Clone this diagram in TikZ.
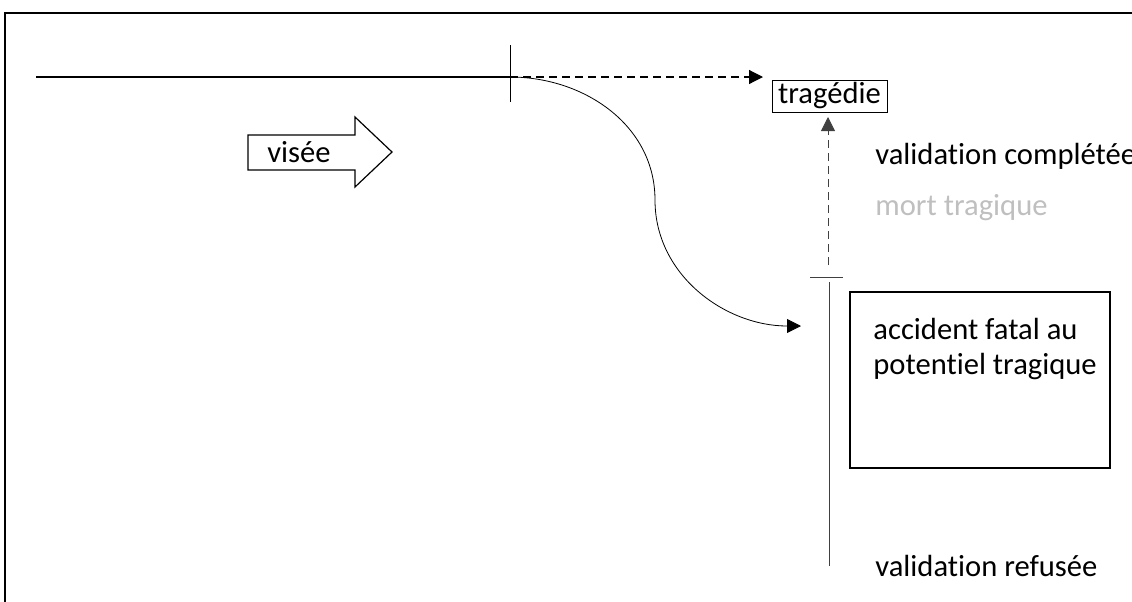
\documentclass[tikz,border=0pt]{standalone}
\usepackage{fontspec}
\setmainfont{Carlito}[Ligatures=NoCommon]
\usetikzlibrary{arrows.meta}

\begin{document}
\begin{tikzpicture}[x=.5pt,y=-.5pt,font=\fontsize{15.3}{17.5}\selectfont,
    tip/.style={-{Triangle[length=7pt,width=7pt]}},
    dsh/.style={dash pattern=on 4pt off 2.5pt}]
      \useasboundingbox (0,0) rectangle (1132,601);
      \clip (0,0) rectangle (1132,601);
      % frame
      \draw[line width=1pt] (5,13) rectangle (1150,620);

      % line of aim
      \coordinate (start) at (36,77);
      \coordinate (cut) at (510,77);
      \coordinate (cuttop) at (510,45);
      \coordinate (cutbot) at (510,102);
      \draw[semithick] (start) to (cut);
      \draw[thin] (cuttop) to (cutbot);

      % vis\'ee
      \draw[semithick] (248,135) -- (355,135) -- (355,117) -- (392,152)
      -- (355,187) -- (355,170) -- (248,170) -- cycle;
      \node (visee) at (299,152) {visée};

      % trag\'edie
      \node (trag) at (829.5,96) [draw, thin, inner sep=0pt, minimum width=57.5pt, minimum height=16pt] {tragédie};
      \coordinate (tragtip) at (763,77);
      \draw[semithick, dsh, tip] (cut) to (tragtip);

      % validation
      \coordinate (val) at (828,265);
      \coordinate (valtop) at (828,117);
      \draw[thin, dsh, black!75, tip] (val) to (valtop);
      \coordinate (barl) at (810,277);
      \coordinate (barr) at (843,277);
      \draw[thin, black!75] (barl) to (barr);
      \coordinate (refa) at (829,282);
      \coordinate (refb) at (829,566);
      \draw[thin, black!75] (refa) to (refb);
      \node (complete) at (875,156) [anchor=west, inner sep=0pt] {validation complétée};
      \node (mort) at (875,208) [anchor=west, inner sep=0pt, text=black!25] {mort tragique};
      \node (refuse) at (875,566) [anchor=west, inner sep=0pt] {validation refusée};

      % accident
      \node (acc) at (980,380) [draw, semithick, minimum width=130pt, minimum height=88pt] {};
      \node (acctext) at (873,318) [anchor=north west, inner sep=0pt, align=left] {accident fatal au\\potentiel tragique};
      \coordinate (mid) at (655,200);
      \coordinate (acctip) at (801,326);
      \draw[thin, tip] (cut) to[out=0,in=90] (mid) to[out=-90,in=180] (acctip);
    \end{tikzpicture}
\end{document}
